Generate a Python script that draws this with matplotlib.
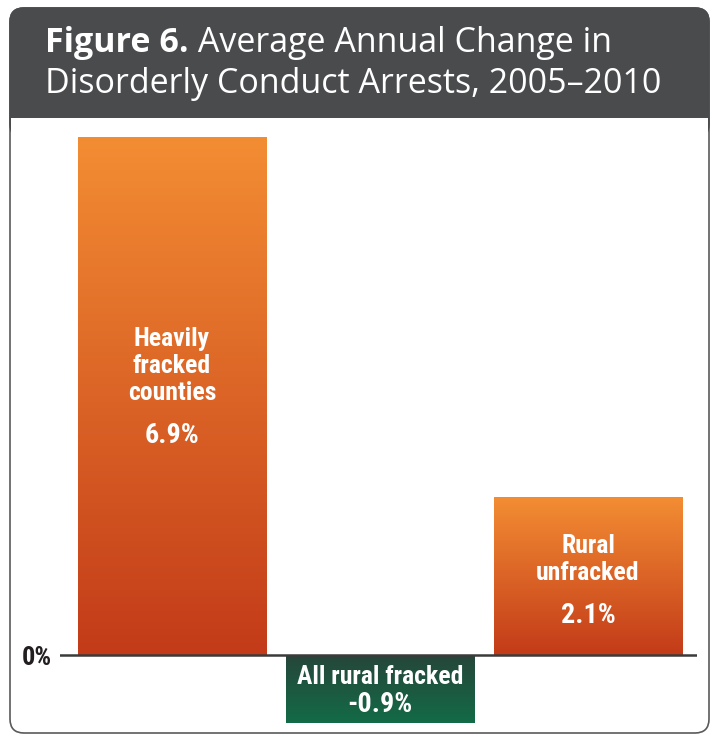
import numpy as np
import matplotlib.pyplot as plt
from matplotlib import font_manager
from matplotlib.patches import FancyBboxPatch, Rectangle
from matplotlib.colors import LinearSegmentedColormap

categories = ['Heavily\nfracked\ncounties', 'All rural fracked', 'Rural\nunfracked']
values = [6.9, -0.9, 2.1]
value_labels = ['6.9%', '-0.9%', '2.1%']

# pick a condensed bold face if there is one
names = {f.name for f in font_manager.fontManager.ttflist}
cond = [f for f in font_manager.fontManager.ttflist if 'condensed' in str(f.stretch)]
narrow = dict(family='Liberation Sans', fontstretch='normal')
for fam in ['Roboto Condensed', 'Liberation Sans Narrow', 'Open Sans Condensed']:
    if fam in names:
        narrow = dict(family=fam, fontstretch='normal')
        break
else:
    if any(f.name == 'DejaVu Sans' for f in cond):
        narrow = dict(family='DejaVu Sans', fontstretch='condensed')

W, H = 713, 736
fig = plt.figure(figsize=(W / 100, H / 100), dpi=100)

# frame / header drawn in pixel coordinates
bg = fig.add_axes([0, 0, 1, 1])
bg.set_xlim(0, W)
bg.set_ylim(H, 0)
bg.axis('off')
bg.add_patch(FancyBboxPatch((10, 8), 699, 725, boxstyle='round,pad=0,rounding_size=14',
                            fc='white', ec='#5a5a5a', lw=1.2))
bg.add_patch(FancyBboxPatch((10, 8), 699, 130, boxstyle='round,pad=0,rounding_size=14',
                            fc='#4a4b4d', ec='#4a4b4d', lw=1.2))
bg.add_patch(Rectangle((11, 118), 697, 22, fc='white', ec='none'))

t1 = bg.text(45, 52, 'Figure 6.', color='white', fontsize=24.5, fontweight='bold',
             family='Open Sans', va='baseline', ha='left')
bg.annotate(' Average Annual Change in', xy=(1, 0), xycoords=t1, color='white',
            fontsize=24.5, family='Open Sans', va='bottom', ha='left')
bg.text(45, 93, 'Disorderly Conduct Arrests, 2005\u20132010', color='white', fontsize=24.5,
        family='Open Sans', va='baseline', ha='left')

# chart axes: zero at y=655px, 75.07px per percent
ax = fig.add_axes([60 / W, (H - 733) / H, 637 / W, 613 / H])
ax.patch.set_alpha(0)
for s in ax.spines.values():
    s.set_visible(False)
ax.set_xticks([])
ax.set_yticks([0])
ax.set_yticklabels(['0%'], fontsize=19, fontweight='bold', color='#231f20', **narrow)
ax.tick_params(axis='y', length=0, pad=6)

orange = LinearSegmentedColormap.from_list('o', ['#c33b19', '#f38d33'])
green = LinearSegmentedColormap.from_list('g', ['#136b47', '#26463a'])

x = np.arange(len(values))
bars = ax.bar(x, values, width=0.904, color='none', zorder=2)
grad = np.linspace(0, 1, 256).reshape(-1, 1)
for b, v in zip(bars, values):
    x0, w = b.get_x(), b.get_width()
    cmap = orange if v > 0 else green
    im = ax.imshow(grad, cmap=cmap, aspect='auto', origin='lower',
                   extent=(x0, x0 + w, min(0, v), max(0, v)), zorder=2)
    im.set_clip_path(b)

ax.axhline(0, color='#3b3b3b', lw=1.8, zorder=3)
ax.set_xlim(-0.538, 2.524)
ax.set_ylim(-1.039, 7.127)

# fit label size so "All rural fracked" is about 166px wide
fig.canvas.draw()
r = fig.canvas.get_renderer()
probe = ax.text(0, 0, 'All rural fracked', fontsize=20, fontweight='bold', **narrow)
fs = 20 * 166 / probe.get_window_extent(r).width
probe.remove()

lab = dict(color='white', fontweight='bold', ha='center', va='baseline',
           textcoords='offset pixels', zorder=4, **narrow)
for xi, v, c, p in zip(x, values, categories, value_labels):
    lines = c.split('\n')
    if v > 0:
        offs = [4 + 27 * (i - len(lines) + 1) for i in range(len(lines))] + [47]
    else:
        offs = [-5, 23]
    sizes = [fs] * len(lines) + [fs * 1.1]
    for t, o, s in zip(lines + [p], offs, sizes):
        ax.annotate(t, xy=(xi, v / 2), xytext=(0, -o), fontsize=s, **lab)

fig.savefig('out.png', dpi=100)
